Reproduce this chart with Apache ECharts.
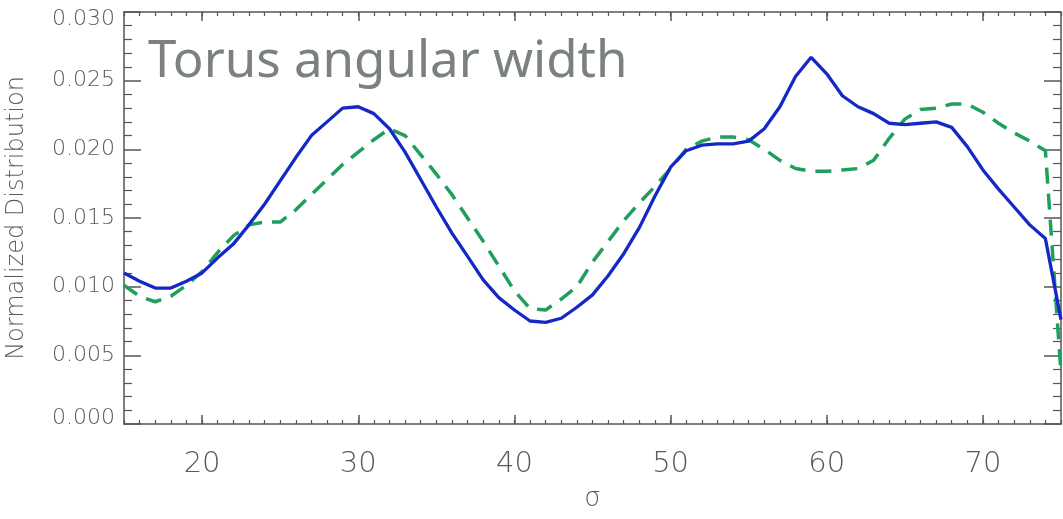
<!DOCTYPE html>
<html>
<head>
<meta charset="utf-8">
<title>Torus angular width</title>
<script src="https://cdn.jsdelivr.net/npm/echarts@6/dist/echarts.min.js"></script>
<style>
  html, body { margin: 0; padding: 0; background: #ffffff; }
  #chart { width: 1063px; height: 519px; }
</style>
</head>
<body>
<div id="chart"></div>
<script>
// Angular width sigma (degrees)
const sigma = [15, 16, 17, 18, 19, 20, 21, 22, 23, 24, 25, 26, 27, 28, 29, 30,
  31, 32, 33, 34, 35, 36, 37, 38, 39, 40, 41, 42, 43, 44, 45, 46, 47, 48, 49, 50,
  51, 52, 53, 54, 55, 56, 57, 58, 59, 60, 61, 62, 63, 64, 65, 66, 67, 68, 69, 70,
  71, 72, 73, 74, 75];

// Solid blue curve
const solidDist = [0.0110, 0.0104, 0.0099, 0.0099, 0.0104, 0.0110, 0.0121, 0.0131,
  0.0145, 0.0160, 0.0177, 0.0194, 0.0210, 0.0220, 0.0230, 0.0231,
  0.0226, 0.0215, 0.0198, 0.0178, 0.0158, 0.0139, 0.0122, 0.0105, 0.0092, 0.0083,
  0.0075, 0.0074, 0.0077, 0.0085, 0.0094, 0.0108, 0.0124, 0.0143, 0.0166, 0.0187,
  0.0199, 0.0203, 0.0204, 0.0204, 0.0206, 0.0215, 0.0231, 0.0253, 0.0267, 0.0255,
  0.0239, 0.0231, 0.0226, 0.0219, 0.0218, 0.0219, 0.0220, 0.0216, 0.0202, 0.0185,
  0.0171, 0.0158, 0.0145, 0.0135, 0.0076];

// Dashed green curve
const dashedDist = [0.0101, 0.0093, 0.0089, 0.0093, 0.0101, 0.0111, 0.0125, 0.0137,
  0.0145, 0.0147, 0.0147, 0.0156, 0.0167, 0.0178, 0.0189, 0.0198,
  0.0207, 0.0215, 0.0210, 0.0196, 0.0182, 0.0167, 0.0150, 0.0133, 0.0115, 0.0097,
  0.0084, 0.0083, 0.0091, 0.0100, 0.0118, 0.0133, 0.0148, 0.0161, 0.0173, 0.0186,
  0.0200, 0.0206, 0.0209, 0.0209, 0.0207, 0.0200, 0.0192, 0.0186, 0.0184, 0.0184,
  0.0185, 0.0186, 0.0192, 0.0208, 0.0222, 0.0229, 0.0230, 0.0233, 0.0233, 0.0227,
  0.0219, 0.0212, 0.0206, 0.0199, 0.0037];

const xMajorTicks = [20, 30, 40, 50, 60, 70];

const axisColor = '#555555';
const labelColor = '#5a5a5a';
const labelFont = 'DejaVu Sans';

function pairs(xs, ys) {
  return xs.map((x, i) => [x, ys[i]]);
}

// Bottom/top axes: one carries the major ticks (and labels), one the unit ticks
function xMajor(position, showLabels) {
  return {
    type: 'value', position: position, min: 15, max: 75,
    axisLine: { show: true, onZero: false, lineStyle: { color: axisColor, width: 1.5 } },
    axisTick: { show: true, inside: true, length: 9, customValues: xMajorTicks,
      lineStyle: { color: axisColor, width: 1.5 } },
    axisLabel: { show: showLabels, customValues: xMajorTicks, margin: 26,
      color: labelColor, fontFamily: labelFont, fontWeight: 200, fontSize: 29 },
    splitLine: { show: false },
    name: showLabels ? 'σ' : '', nameLocation: 'middle', nameGap: 62,
    nameTextStyle: { color: labelColor, fontFamily: labelFont, fontWeight: 200, fontSize: 26 }
  };
}
function xMinor(position) {
  return {
    type: 'value', position: position, min: 15, max: 75, interval: 1,
    axisLine: { show: false, onZero: false },
    axisTick: { show: true, inside: true, length: 4, lineStyle: { color: axisColor, width: 1.2 } },
    axisLabel: { show: false },
    splitLine: { show: false }
  };
}
// Left/right value axes; the end labels sit a little inside the frame
function yAxis(position, showLabels) {
  const labelStyle = { color: labelColor, fontFamily: labelFont, fontWeight: 200, fontSize: 22 };
  return {
    type: 'value', position: position, min: 0, max: 0.03, interval: 0.005,
    axisLine: { show: true, onZero: false, lineStyle: { color: axisColor, width: 1.5 } },
    axisTick: { show: true, inside: true, length: 17, lineStyle: { color: axisColor, width: 1.5 } },
    minorTick: { show: true, splitNumber: 5, length: 8, lineStyle: { color: axisColor, width: 1.2 } },
    axisLabel: {
      show: showLabels, margin: 9, ...labelStyle,
      formatter: v => {
        const s = v.toFixed(3);
        if (v >= 0.0299) return '{top|' + s + '}';
        if (v <= 0.0001) return '{bot|' + s + '}';
        return s;
      },
      rich: {
        top: { ...labelStyle, padding: [15, 0, 0, 0] },
        bot: { ...labelStyle, padding: [0, 0, 12, 0] }
      }
    },
    splitLine: { show: false },
    name: showLabels ? 'Normalized Distribution' : '', nameLocation: 'middle', nameGap: 95,
    nameTextStyle: { color: labelColor, fontFamily: labelFont, fontWeight: 200, fontSize: 24 }
  };
}

const chart = echarts.init(document.getElementById('chart'), null, { renderer: 'canvas' });
chart.setOption({
  animation: false,
  backgroundColor: '#ffffff',
  grid: { left: 124, right: 2, top: 12, bottom: 95, containLabel: false, outerBoundsMode: 'none' },
  xAxis: [xMajor('bottom', true), xMinor('bottom'), xMajor('top', false), xMinor('top')],
  yAxis: [yAxis('left', true), yAxis('right', false)],
  graphic: [{
    type: 'text', left: 148, top: 37, silent: true,
    style: { text: 'Torus angular width', fill: '#7b8081', font: '400 51px "Noto Sans"' }
  }],
  series: [
    {
      type: 'line', name: 'solid', xAxisIndex: 0, yAxisIndex: 0,
      data: pairs(sigma, solidDist), showSymbol: false, clip: true,
      lineStyle: { color: '#1428c6', width: 3.3 }, z: 3
    },
    {
      type: 'line', name: 'dashed', xAxisIndex: 0, yAxisIndex: 0,
      data: pairs(sigma, dashedDist), showSymbol: false, clip: true,
      lineStyle: { color: '#1f9e5c', width: 3.5, type: [16, 10] }, z: 2
    }
  ]
});
</script>
</body>
</html>
